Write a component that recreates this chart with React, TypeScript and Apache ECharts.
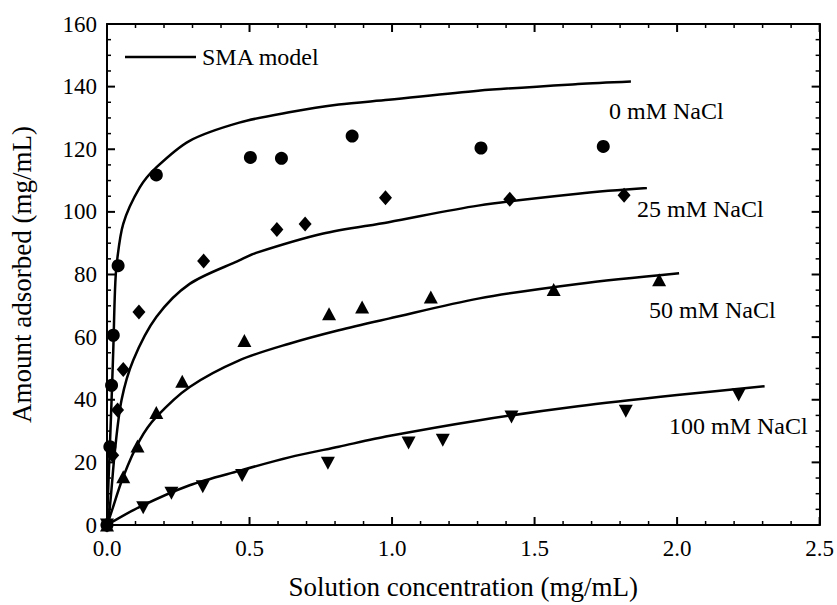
import React, { useEffect, useRef } from "react";
import * as echarts from "echarts";

// Experimental data (scatter)
const nacl0X = [0, 0.01, 0.016, 0.022, 0.039, 0.173, 0.503, 0.612, 0.86, 1.312, 1.741];
const nacl0Y = [0, 25.0, 44.6, 60.6, 82.8, 111.8, 117.4, 117.1, 124.2, 120.4, 120.9];
const nacl25X = [0, 0.02, 0.037, 0.057, 0.112, 0.339, 0.596, 0.695, 0.977, 1.413, 1.814];
const nacl25Y = [0, 22.3, 36.7, 49.7, 68.0, 84.3, 94.4, 96.1, 104.5, 104.0, 105.3];
const nacl50X = [0, 0.057, 0.107, 0.173, 0.264, 0.482, 0.779, 0.895, 1.136, 1.567, 1.937];
const nacl50Y = [0, 15.4, 25.2, 35.9, 45.9, 58.9, 67.5, 69.6, 72.8, 75.2, 78.3];
const nacl100X = [0, 0.127, 0.226, 0.336, 0.474, 0.775, 1.058, 1.178, 1.419, 1.82, 2.216];
const nacl100Y = [0, 5.5, 10.1, 12.2, 15.8, 19.7, 26.2, 27.1, 34.5, 36.3, 41.5];

// SMA model curves
const model0X = [0, 0.005, 0.014, 0.022, 0.028, 0.034, 0.057, 0.115, 0.173, 0.29, 0.464, 0.639, 0.813, 0.988, 1.302, 1.652, 1.838];
const model0Y = [0, 13.3, 34.6, 55.9, 74.9, 83.4, 96.2, 107.8, 114.2, 122.7, 128.5, 131.8, 134.3, 135.8, 138.7, 140.8, 141.6];
const model25X = [0, 0.01, 0.028, 0.051, 0.092, 0.173, 0.29, 0.464, 0.523, 0.755, 0.988, 1.302, 1.652, 1.894];
const model25Y = [0, 5.8, 23.9, 39.9, 52.6, 66.4, 77.0, 84.5, 86.9, 93.0, 96.7, 102.0, 105.8, 107.6];
const model50X = [0, 0.01, 0.057, 0.115, 0.173, 0.29, 0.464, 0.639, 0.813, 0.988, 1.302, 1.652, 2.007];
const model50Y = [0, 2.6, 15.4, 27.1, 34.5, 44.1, 52.6, 57.9, 62.2, 65.9, 72.3, 77.0, 80.4];
const model100X = [0, 0.115, 0.29, 0.464, 0.639, 0.813, 0.988, 1.302, 1.652, 2.0, 2.307];
const model100Y = [0, 5.8, 12.7, 17.3, 21.6, 25.0, 28.4, 33.4, 37.9, 41.5, 44.3];

const curveLabels = ["0 mM NaCl", "25 mM NaCl", "50 mM NaCl", "100 mM NaCl"];
const legendLabel = "SMA model";
const xTicks = { min: 0, max: 2.5, interval: 0.5 };
const yTicks = { min: 0, max: 160, interval: 20 };

// Tick positions (major and minor) on each axis
const xMajorTicks = [0, 0.5, 1.0, 1.5, 2.0, 2.5];
const xMinorTicks = [0.1, 0.2, 0.3, 0.4, 0.6, 0.7, 0.8, 0.9, 1.1, 1.2, 1.3, 1.4, 1.6, 1.7, 1.8, 1.9, 2.1, 2.2, 2.3, 2.4];
const yMajorTicks = [0, 20, 40, 60, 80, 100, 120, 140, 160];
const yMinorTicks = [5, 10, 15, 25, 30, 35, 45, 50, 55, 65, 70, 75, 85, 90, 95, 105, 110, 115, 125, 130, 135, 145, 150, 155];

const FONT = "'Liberation Serif', 'Times New Roman', serif";

const zip = (xs: number[], ys: number[]) => xs.map((x, i) => [x, ys[i]]);

export default function App() {
  const ref = useRef<HTMLDivElement>(null);
  useEffect(() => {
    if (!ref.current) return;
    const chart = echarts.init(ref.current, undefined, { renderer: "svg" });
    const mkLine = (onZero: boolean) => ({ show: true, onZero, lineStyle: { color: "#000", width: 2 } });
    const noTick = { show: false };
    const scatter = (name: string, data: number[][], symbol: string, size: number | number[]) => ({
      type: "scatter",
      name,
      data,
      symbol,
      symbolSize: size,
      itemStyle: { color: "#000", opacity: 1 },
      z: 3,
    });
    const line = (data: number[][]) => ({
      type: "line",
      name: legendLabel,
      data,
      smooth: 0.3,
      showSymbol: false,
      symbol: "none",
      lineStyle: { color: "#000", width: 2.5 },
      z: 2,
    });
    // inward ticks on both opposite sides of the frame, placed through the axis scales
    const tickSeries = (values: number[], dir: "x" | "y", len: number, width: number) => ({
      type: "custom",
      silent: true,
      clip: false,
      z: 10,
      data: values.map((v) => (dir === "x" ? [v, yTicks.min] : [xTicks.min, v])),
      encode: { x: 0, y: 1 },
      renderItem: (_params: any, api: any) => {
        const style = { stroke: "#000", lineWidth: width };
        if (dir === "x") {
          const v = api.value(0);
          const b = api.coord([v, yTicks.min]);
          const t = api.coord([v, yTicks.max]);
          return {
            type: "group",
            children: [
              { type: "line", shape: { x1: b[0], y1: b[1], x2: b[0], y2: b[1] - len }, style },
              { type: "line", shape: { x1: t[0], y1: t[1], x2: t[0], y2: t[1] + len }, style },
            ],
          };
        }
        const v = api.value(1);
        const l = api.coord([xTicks.min, v]);
        const r = api.coord([xTicks.max, v]);
        return {
          type: "group",
          children: [
            { type: "line", shape: { x1: l[0], y1: l[1], x2: l[0] + len, y2: l[1] }, style },
            { type: "line", shape: { x1: r[0], y1: r[1], x2: r[0] - len, y2: r[1] }, style },
          ],
        };
      },
    });
    const text = (x: number, y: number, t: string) => ({
      type: "text",
      x,
      y,
      style: {
        text: t,
        fill: "#000",
        fontFamily: FONT,
        fontSize: 24,
        verticalAlign: "middle",
      },
    });
    chart.setOption({
      animation: false,
      grid: { left: 106, right: 14, top: 24, bottom: 79 },
      xAxis: [
        {
          type: "value",
          ...xTicks,
          position: "bottom",
          axisLine: mkLine(true),
          axisTick: noTick,
          minorTick: noTick,
          splitLine: { show: false },
          axisLabel: {
            formatter: (v: number) => v.toFixed(1),
            color: "#000",
            fontFamily: FONT,
            fontSize: 23,
            margin: 12,
          },
          name: "Solution concentration (mg/mL)",
          nameLocation: "middle",
          nameGap: 48,
          nameTextStyle: { color: "#000", fontFamily: FONT, fontSize: 27 },
        },
        {
          type: "value",
          ...xTicks,
          position: "top",
          axisLine: mkLine(false),
          axisTick: noTick,
          minorTick: noTick,
          splitLine: { show: false },
          axisLabel: { show: false },
        },
      ],
      yAxis: [
        {
          type: "value",
          ...yTicks,
          position: "left",
          axisLine: mkLine(true),
          axisTick: noTick,
          minorTick: noTick,
          splitLine: { show: false },
          axisLabel: {
            color: "#000",
            fontFamily: FONT,
            fontSize: 23,
            margin: 10,
          },
          name: "Amount adsorbed (mg/mL)",
          nameLocation: "middle",
          nameGap: 72,
          nameTextStyle: { color: "#000", fontFamily: FONT, fontSize: 27 },
        },
        {
          type: "value",
          ...yTicks,
          position: "right",
          axisLine: mkLine(false),
          axisTick: noTick,
          minorTick: noTick,
          splitLine: { show: false },
          axisLabel: { show: false },
        },
      ],
      graphic: [
        {
          type: "line",
          shape: { x1: 125, y1: 57, x2: 196, y2: 57 },
          style: { stroke: "#000", lineWidth: 2.5 },
        },
        text(202, 57, legendLabel),
        text(609, 111, curveLabels[0]),
        text(637, 209, curveLabels[1]),
        text(649, 310, curveLabels[2]),
        text(669, 426, curveLabels[3]),
      ],
      series: [
        tickSeries(xMajorTicks, "x", 8, 2),
        tickSeries(xMinorTicks, "x", 4, 1.5),
        tickSeries(yMajorTicks, "y", 8, 2),
        tickSeries(yMinorTicks, "y", 4, 1.5),
        line(zip(model0X, model0Y)),
        line(zip(model25X, model25Y)),
        line(zip(model50X, model50Y)),
        line(zip(model100X, model100Y)),
        scatter(curveLabels[0], zip(nacl0X, nacl0Y), "circle", 13),
        scatter(curveLabels[1], zip(nacl25X, nacl25Y), "diamond", [13, 15]),
        scatter(curveLabels[2], zip(nacl50X, nacl50Y), "triangle", [14, 13]),
        scatter(curveLabels[3], zip(nacl100X, nacl100Y), "path://M0,0 L10,0 L5,9 Z", [14, 13]),
      ],
    });
    return () => chart.dispose();
  }, []);
  return <div ref={ref} style={{ width: 837, height: 605, position: "absolute", left: 0, top: 0 }} />;
}
